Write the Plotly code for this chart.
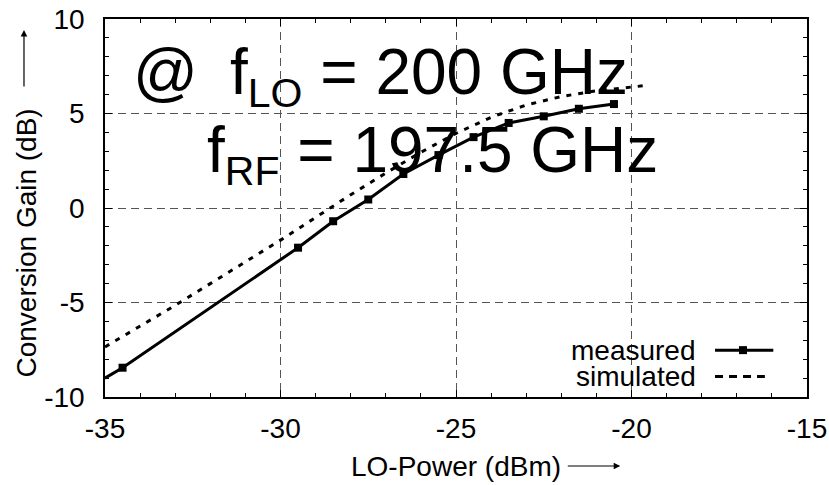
import plotly.graph_objects as go

# ---- data ----
meas_x = [-35, -34.5, -29.5, -28.5, -27.5, -26.5, -25.5, -24.5, -23.5, -22.5, -21.5, -20.5]
meas_y = [-9.0, -8.45, -2.1, -0.7, 0.45, 1.8, 2.8, 3.75, 4.5, 4.85, 5.25, 5.5]
meas_marker_size = [0, 8, 8, 8, 8, 8, 8, 8, 8, 8, 8, 8]

sim_x = [-35, -34, -33, -32, -31, -30, -29, -28, -27, -26, -25, -24, -23, -22, -21, -20, -19.5]
sim_y = [-7.35, -6.25, -5.15, -4.0, -2.85, -1.7, -0.5, 0.7, 1.85, 2.95, 3.95, 4.8, 5.45,
         5.9, 6.2, 6.4, 6.5]

x_ticks = [-35, -30, -25, -20, -15]
x_tick_labels = ["-35", "-30", "-25", "-20", "-15"]
y_ticks = [-10, -5, 0, 5, 10]
y_tick_labels = ["-10", "-5", "0", "5", "10"]

series_names = ["measured", "simulated"]
x_title = "LO-Power (dBm)"
y_title = "Conversion Gain (dB)"
line1 = "@\u2002f<sub><span style='font-size:41px'>LO</span></sub> = 200 GHz"
line2 = "f<sub><span style='font-size:41px'>RF</span></sub> = 197.5 GHz"

FONT = "Liberation Sans, Arial, Helvetica, sans-serif"
FS = 28

fig = go.Figure()
fig.add_trace(go.Scatter(
    x=meas_x, y=meas_y, mode="lines+markers", name=series_names[0],
    line=dict(color="black", width=3),
    marker=dict(symbol="square", size=meas_marker_size, color="black",
                opacity=1, line=dict(width=0)),
    showlegend=False))
fig.add_trace(go.Scatter(
    x=sim_x, y=sim_y, mode="lines", name=series_names[1],
    line=dict(color="black", width=3, dash="5px,7px"),
    showlegend=False))

axis_common = dict(
    showline=True, linecolor="black", linewidth=1.5, mirror="allticks",
    ticks="inside", ticklen=7, tickwidth=1, tickcolor="black",
    showgrid=True, gridcolor="#555555", gridwidth=1, griddash="8px,5px",
    zeroline=False, automargin=False, ticklabeloverflow="allow",
    tickfont=dict(family=FONT, size=FS, color="black"),
    minor=dict(dtick=1, ticks="inside", ticklen=4, tickcolor="black", showgrid=False),
)

fig.update_xaxes(range=[-35, -15], tickvals=x_ticks, ticktext=x_tick_labels,
                 ticklabelstandoff=6, **axis_common)
fig.update_yaxes(range=[-10, 10], tickvals=y_ticks, ticktext=y_tick_labels,
                 ticklabelstandoff=13, **axis_common)

annotations = [
    dict(text=line1, x=-34.27, y=6.96, xref="x", yref="y", xanchor="left",
         yanchor="middle", showarrow=False,
         font=dict(family=FONT, size=64, color="black")),
    dict(text=line2, x=-32.15, y=2.88, xref="x", yref="y", xanchor="left",
         yanchor="middle", showarrow=False,
         font=dict(family=FONT, size=64, color="black")),
    # axis titles
    dict(text=x_title, x=0.5, y=-0.183, xref="paper", yref="paper",
         xanchor="center", yanchor="middle", showarrow=False,
         font=dict(family=FONT, size=FS, color="black")),
    dict(text=y_title, x=-0.112, y=0.407, xref="paper", yref="paper",
         xanchor="center", yanchor="middle", showarrow=False, textangle=-90,
         font=dict(family=FONT, size=FS, color="black")),
    # axis arrows
    dict(text="", x=0.734, y=-0.1825, xref="paper", yref="paper",
         ax=-54, ay=0, showarrow=True, arrowhead=2, arrowsize=1.1,
         arrowwidth=1.2, arrowcolor="black"),
    dict(text="", x=-0.1154, y=0.971, xref="paper", yref="paper",
         ax=0, ay=58, showarrow=True, arrowhead=2, arrowsize=1.1,
         arrowwidth=1.2, arrowcolor="black"),
    # legend labels
    dict(text=series_names[0], x=0.843, y=0.124, xref="paper", yref="paper",
         xanchor="right", yanchor="middle", showarrow=False, borderpad=0,
         font=dict(family=FONT, size=FS, color="black")),
    dict(text=series_names[1], x=0.843, y=0.054, xref="paper", yref="paper",
         xanchor="right", yanchor="middle", showarrow=False, borderpad=0,
         font=dict(family=FONT, size=FS, color="black")),
]

shapes = [
    dict(type="line", xref="paper", yref="paper", x0=0.869, x1=0.952, y0=0.124, y1=0.124,
         line=dict(color="black", width=3)),
    dict(type="rect", xref="paper", yref="paper", xsizemode="pixel", ysizemode="pixel",
         xanchor=0.9088, yanchor=0.124, x0=-4, x1=4, y0=-4, y1=4,
         fillcolor="black", line=dict(width=0)),
    dict(type="line", xref="paper", yref="paper", x0=0.869, x1=0.94, y0=0.054, y1=0.054,
         line=dict(color="black", width=3, dash="8px,6px")),
]

fig.update_layout(
    width=829, height=485,
    margin=dict(l=105, r=22, t=19, b=88),
    plot_bgcolor="white", paper_bgcolor="white",
    font=dict(family=FONT, color="black"),
    annotations=annotations, shapes=shapes,
    showlegend=False,
)

fig.write_html("out.html", config={"displayModeBar": False},
               post_script="document.body.style.margin='0';document.body.style.overflow='hidden';")
